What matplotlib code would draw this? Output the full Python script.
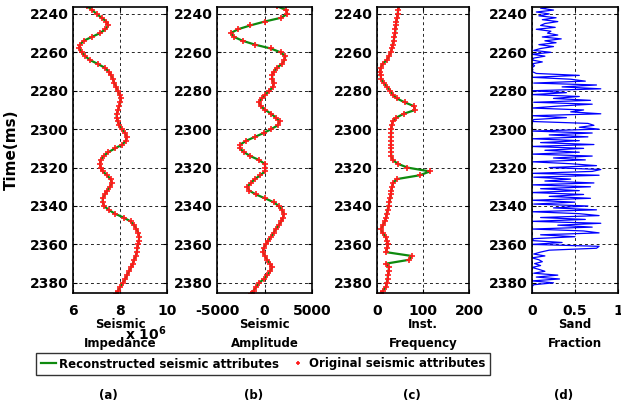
import numpy as np
import matplotlib
matplotlib.use("Agg")
import matplotlib.pyplot as plt
from matplotlib.lines import Line2D

# two-way time (ms), 2 ms sampling for the attribute logs
time_ms = list(range(2236, 2388, 2))

impedance_e6 = [6.60, 6.82, 7.00, 7.22, 7.42, 7.50, 7.38, 7.15, 6.80, 6.45,
                6.30, 6.27, 6.37, 6.52, 6.72, 7.05, 7.35, 7.52, 7.63, 7.70,
                7.76, 7.84, 7.90, 7.98, 8.03, 8.02, 7.97, 7.92, 7.86, 7.86,
                7.90, 7.97, 8.08, 8.22, 8.28, 8.25, 8.10, 7.79, 7.50, 7.30,
                7.18, 7.15, 7.18, 7.27, 7.45, 7.60, 7.65, 7.58, 7.45, 7.35,
                7.27, 7.26, 7.32, 7.52, 7.78, 8.15, 8.45, 8.60, 8.70, 8.78,
                8.82, 8.80, 8.77, 8.74, 8.71, 8.67, 8.60, 8.54, 8.47, 8.38,
                8.30, 8.23, 8.12, 8.02, 7.92, 7.85]

amplitude = [1300, 2300, 2400, 1750, 0, -1500, -2800, -3550, -3200, -2300,
             -1000, 650, 1700, 2200, 2100, 1850, 1300, 970, 800, 820,
             950, 900, 500, 100, -300, -580, -400, 90, 700, 1200,
             1580, 1400, 700, -80, -1000, -1900, -2550, -2600, -2150, -1500,
             -600, 0, 100, 50, -450, -1000, -1450, -1800, -1600, -900,
             50, 950, 1500, 1840, 2020, 1950, 1780, 1500, 1200, 950,
             700, 400, 120, -100, -150, 50, 260, 600, 780, 600,
             300, -50, -580, -850, -1150, -1400]

frequency = [47, 46, 45, 44, 42, 41, 40, 39.5, 38, 36,
             34, 32.5, 30, 26, 21.7, 12, 8, 7, 8, 9,
             15, 22, 29, 34, 43, 60, 80, 83, 58, 42,
             34, 32, 31, 30.5, 30.3, 30.3, 30.3, 30.3, 30.5, 31,
             34, 45, 66, 115, 93, 43, 35, 33, 31, 30,
             29, 27, 25, 23, 21, 20, 17, 13, 9, 12,
             19, 21, 23, 22, 19, 75, 70, 20, 26, 25,
             24, 23, 21, 19.5, 13, 9]

# sand fraction log, 1 ms sampling
sand_time = list(range(2236, 2386))
sand_fraction = [0.30, 0.10, 0.25, 0.05, 0.20,
                 0.08, 0.28, 0.12, 0.30, 0.15, 0.10, 0.27, 0.05, 0.22, 0.18,
                 0.30, 0.12, 0.34, 0.15, 0.28, 0.08, 0.25, 0.10,
                 0.02, 0.22, 0.00, 0.15,
                 0.02, 0.00, 0.12, 0.00, 0.03, 0.00, 0.01, 0.00,
                 0.05, 0.55, 0.00, 0.45, 0.62, 0.02, 0.75, 0.35, 0.80, 0.00,
                 0.40, 0.00, 0.55, 0.25, 0.68, 0.02, 0.70, 0.30, 0.00, 0.60,
                 0.45, 0.80, 0.00, 0.40, 0.02, 0.00, 0.65, 0.72, 0.55, 0.78,
                 0.00, 0.70, 0.20, 0.65, 0.00, 0.55, 0.10, 0.72, 0.00, 0.60,
                 0.15, 0.55, 0.00, 0.70, 0.25, 0.62, 0.00, 0.45, 0.75, 0.20,
                 0.80, 0.70, 0.00, 0.78, 0.02, 0.45, 0.15, 0.72, 0.00, 0.68,
                 0.10, 0.55, 0.00, 0.60, 0.20, 0.68, 0.00, 0.50, 0.02, 0.65,
                 0.25, 0.75, 0.00, 0.55, 0.78, 0.10, 0.62, 0.00, 0.80, 0.30,
                 0.70, 0.00, 0.60, 0.78, 0.10, 0.50, 0.02, 0.00, 0.35, 0.00,
                 0.78, 0.75, 0.20, 0.10, 0.02, 0.15, 0.00, 0.08, 0.12, 0.03,
                 0.10, 0.00, 0.08, 0.15, 0.02, 0.30, 0.05, 0.32, 0.00, 0.25,
                 0.02, 0.00, 0.00, 0.00, 0.00]

y_ticks = [2240, 2260, 2280, 2300, 2320, 2340, 2360, 2380]
x_labels = ["Seismic\nImpedance", "Seismic\nAmplitude", "Inst.\nFrequency", "Sand\nFraction"]
panel_tags = ["(a)", "(b)", "(c)", "(d)"]

W, H = 621, 409
fig = plt.figure(figsize=(W / 100, H / 100), dpi=100)

# axes boxes in pixels: left, right
boxes = [(73, 167), (217, 312), (377, 469), (532, 618)]
top_px, bot_px = 7, 293

green = "#0e8a0e"
red = "#ff1a1a"
tick_font = dict(fontsize=10, fontweight="bold")

axes = []
for (l, r) in boxes:
    ax = fig.add_axes([l / W, 1 - bot_px / H, (r - l) / W, (bot_px - top_px) / H])
    axes.append(ax)

t = np.array(time_ms)
logs = [np.array(impedance_e6) * 1e6, amplitude, frequency]
for ax, vals in zip(axes[:3], logs):
    ax.plot(vals, t, color=green, lw=1.6)
    ax.plot(vals, t, ls="none", marker="+", ms=4.5, mew=1.2, color=red)
axes[3].plot(sand_fraction, sand_time, color="#0000ff", lw=0.9)

xlims = [(6e6, 10e6), (-5000, 5000), (0, 200), (0, 1)]
xticks = [[6e6, 8e6, 10e6], [-5000, 0, 5000], [0, 100, 200], [0, 0.5, 1]]
xticklabels = [["6", "8", "10"], ["-5000", "0", "5000"], ["0", "100", "200"], ["0", "0.5", "1"]]

for i, ax in enumerate(axes):
    ax.set_xlim(*xlims[i])
    ax.set_ylim(2385.3, 2236.4)
    ax.set_xticks(xticks[i])
    ax.set_xticklabels(xticklabels[i], **tick_font)
    ax.set_yticks(y_ticks)
    ax.set_yticklabels([str(v) for v in y_ticks], **tick_font)
    ax.tick_params(direction="in", length=3, width=0.8, pad=3, top=True, right=True)
    ax.tick_params(axis="x", pad=8)
    ax.grid(True, color="k", ls=(0, (3, 3)), lw=0.7, alpha=0.85)
    for s in ax.spines.values():
        s.set_linewidth(1.2)
    cx = (boxes[i][0] + boxes[i][1]) / 2 / W
    fig.text(cx, 1 - 334 / H, x_labels[i], ha="center", va="center",
             fontsize=8.5, fontweight="bold", linespacing=1.6)
    fig.text(cx - 0.018, 1 - 395 / H, panel_tags[i], ha="center", va="center",
             fontsize=8.5, fontweight="bold")

fig.text(146 / W, 1 - 334 / H, r"x 10$^{\mathbf{6}}$", ha="center", va="center",
         fontsize=10, fontweight="bold")

axes[0].set_ylabel("Time(ms)", fontsize=11, fontweight="bold", labelpad=8)

handles = [Line2D([], [], color=green, lw=1.6),
           Line2D([], [], ls="none", marker="+", ms=3.5, mew=1.2, color=red)]
leg = fig.legend(handles, ["Reconstructed seismic attributes", "Original seismic attributes"],
                 loc="center", bbox_to_anchor=(263 / W, 1 - 364 / H), ncol=2,
                 frameon=True, fancybox=False, edgecolor="k",
                 prop=dict(size=8.5, weight="bold"), handlelength=1.3,
                 handletextpad=0.3, columnspacing=0.9, borderpad=0.35, borderaxespad=0)
leg.get_frame().set_linewidth(1.0)

fig.savefig("out.png", dpi=100)
